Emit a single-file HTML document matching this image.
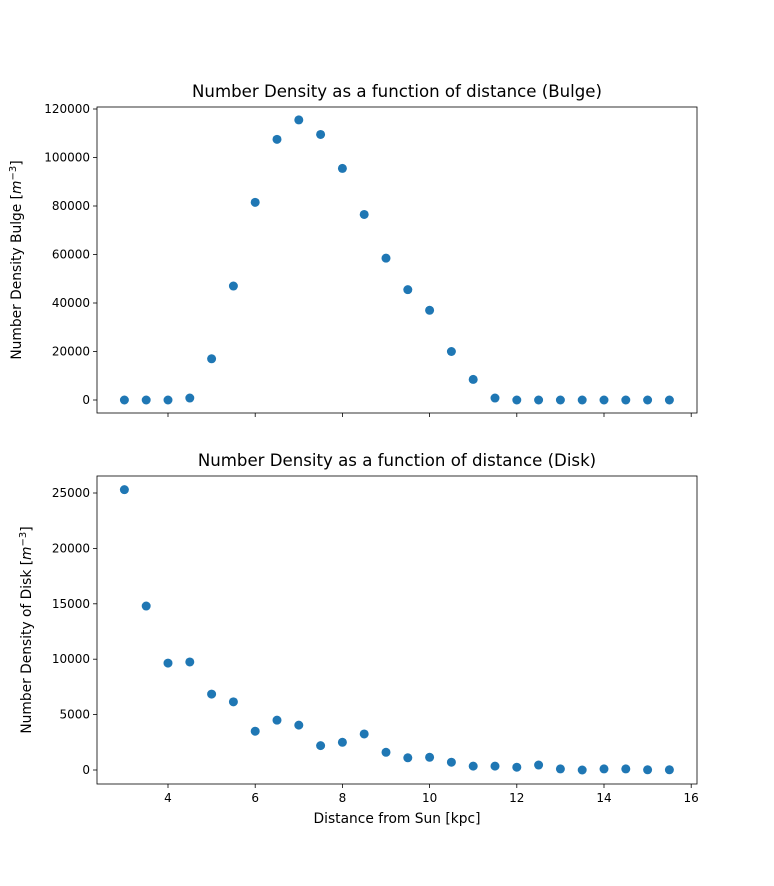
<!DOCTYPE html>
<html><head><meta charset="utf-8"><style>
body{margin:0;background:#fff;}
svg{font-family:"DejaVu Sans","Liberation Sans",sans-serif;}
</style></head><body>
<svg id="fig" width="774" height="881" xmlns="http://www.w3.org/2000/svg">
<rect width="774" height="881" fill="#fff"/>
</svg>
<script>
const distances=[3,3.5,4,4.5,5,5.5,6,6.5,7,7.5,8,8.5,9,9.5,10,10.5,11,11.5,12,12.5,13,13.5,14,14.5,15,15.5];
const bulgeValues=[0,0,0,800,17000,47000,81500,107500,115500,109500,95500,76500,58500,45500,37000,20000,8500,800,0,0,0,0,0,0,0,0];
const diskValues=[25300,14800,9650,9750,6850,6150,3500,4500,4050,2200,2500,3250,1600,1100,1150,700,350,350,250,450,100,0,100,100,20,20];
const xTicks=[4,6,8,10,12,14,16];
const bulgeTicks=[0,20000,40000,60000,80000,100000,120000];
const diskTicks=[0,5000,10000,15000,20000,25000];

const svg=document.getElementById('fig');
const NS='http://www.w3.org/2000/svg';
function mk(tag,attrs,parent){const e=document.createElementNS(NS,tag);for(const k in attrs)e.setAttribute(k,attrs[k]);(parent||svg).appendChild(e);return e;}
const xs=v=>168+(v-4)*43.6;

function panel(name,top,bottom,zeroY,perUnit,vals,ticks,title,ylabel,showXLabels){
  const g=mk('g',{});
  
  
  const ys=v=>zeroY-v*perUnit;
  ticks.forEach(t=>{
    const y=ys(t);
    mk('line',{x1:93,x2:97,y1:y,y2:y,stroke:'#000','stroke-width':0.8},g);
    const tx=mk('text',{x:90,y:y+4,'text-anchor':'end','font-size':12},g);tx.textContent=t;
    
    
  });
  xTicks.forEach(t=>{
    const x=xs(t);
    mk('line',{x1:x,x2:x,y1:bottom,y2:bottom+4,stroke:'#000','stroke-width':0.8},g);
    if(showXLabels){const tx=mk('text',{x:x,y:bottom+18,'text-anchor':'middle','font-size':12},g);tx.textContent=t;
      
      }
  });
  vals.forEach((v,i)=>{
    const c=mk('circle',{cx:xs(distances[i]),cy:ys(v),r:4.5,fill:'#1f77b4'},g);
    
    
  });
  mk('rect',{x:97,y:top,width:600,height:bottom-top,fill:'none',stroke:'#000','stroke-width':0.8},g);
  const t=mk('text',{x:397,y:top-10,'text-anchor':'middle','font-size':16.6},g);t.textContent=title;
  
  
  const cy=(top+bottom)/2;
  const yl=mk('text',{x:0,y:0,'text-anchor':'middle','font-size':13.8,transform:`translate(${name==='bulge-panel'?21:31},${cy}) rotate(-90)`},g);
  yl.innerHTML=ylabel+' [<tspan font-style="italic">m</tspan><tspan font-size="10" dy="-5">−3</tspan><tspan dy="5">]</tspan>';
  
  
}
panel('bulge-panel',107,413,400,291/120000,bulgeValues,bulgeTicks,'Number Density as a function of distance (Bulge)','Number Density Bulge',false);
panel('disk-panel',476,784,770,277/25000,diskValues,diskTicks,'Number Density as a function of distance (Disk)','Number Density of Disk',true);
const xl=mk('text',{x:397,y:823,'text-anchor':'middle','font-size':13.8});
xl.textContent='Distance from Sun [kpc]';


</script>
</body></html>
